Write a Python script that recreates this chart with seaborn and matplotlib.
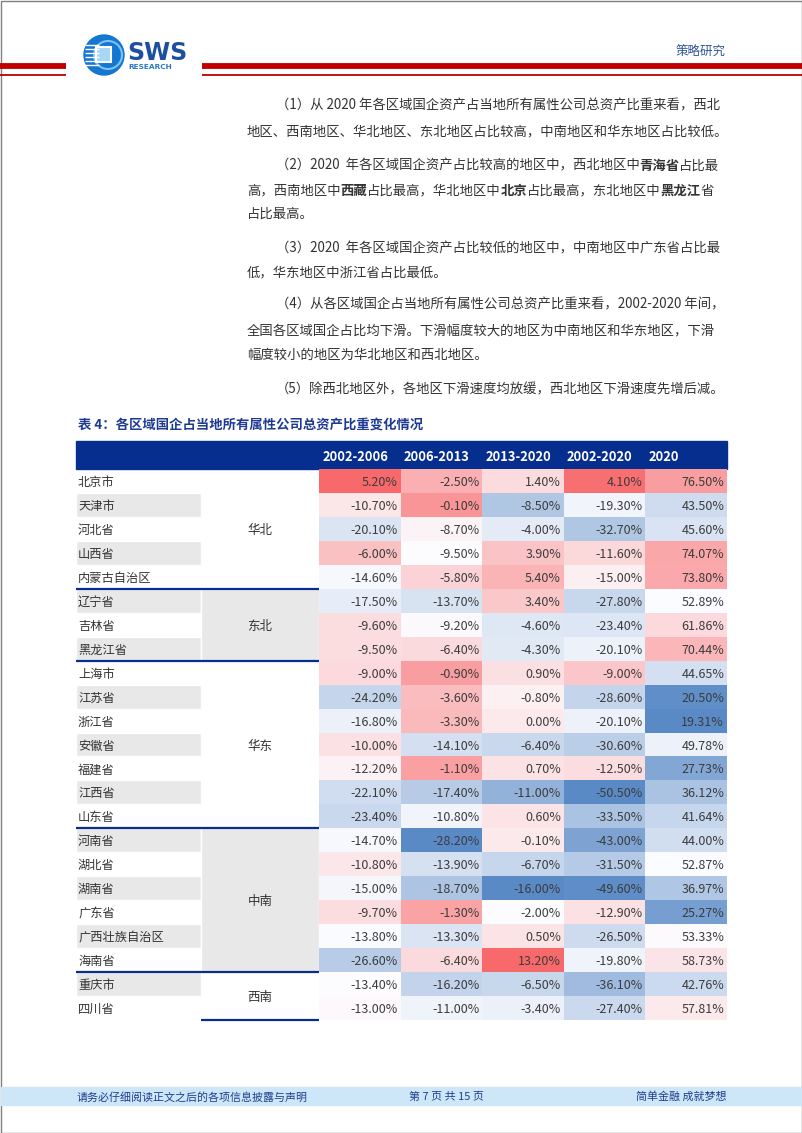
import matplotlib
matplotlib.use("Agg")
import matplotlib.pyplot as plt
import numpy as np
import pandas as pd
import seaborn as sns
from matplotlib import font_manager
from matplotlib.colors import LinearSegmentedColormap, TwoSlopeNorm
from matplotlib.patches import Rectangle, Circle

# Table 4 data: change of SOE share of total assets, by province
provinces = ["北京市", "天津市", "河北省", "山西省", "内蒙古自治区",
             "辽宁省", "吉林省", "黑龙江省",
             "上海市", "江苏省", "浙江省", "安徽省", "福建省", "江西省", "山东省",
             "河南省", "湖北省", "湖南省", "广东省", "广西壮族自治区", "海南省",
             "重庆市", "四川省"]
regions = ["华北", "东北", "华东", "中南", "西南"]
region_sizes = [5, 3, 7, 6, 2]
periods = ["2002-2006", "2006-2013", "2013-2020", "2002-2020", "2020"]

chg_0206 = [5.2, -10.7, -20.1, -6.0, -14.6, -17.5, -9.6, -9.5, -9.0, -24.2, -16.8, -10.0,
            -12.2, -22.1, -23.4, -14.7, -10.8, -15.0, -9.7, -13.8, -26.6, -13.4, -13.0]
chg_0613 = [-2.5, -0.1, -8.7, -9.5, -5.8, -13.7, -9.2, -6.4, -0.9, -3.6, -3.3, -14.1,
            -1.1, -17.4, -10.8, -28.2, -13.9, -18.7, -1.3, -13.3, -6.4, -16.2, -11.0]
chg_1320 = [1.4, -8.5, -4.0, 3.9, 5.4, 3.4, -4.6, -4.3, 0.9, -0.8, 0.0, -6.4,
            0.7, -11.0, 0.6, -0.1, -6.7, -16.0, -2.0, 0.5, 13.2, -6.5, -3.4]
chg_0220 = [4.1, -19.3, -32.7, -11.6, -15.0, -27.8, -23.4, -20.1, -9.0, -28.6, -20.1, -30.6,
            -12.5, -50.5, -33.5, -43.0, -31.5, -49.6, -12.9, -26.5, -19.8, -36.1, -27.4]
share_2020 = [76.50, 43.50, 45.60, 74.07, 73.80, 52.89, 61.86, 70.44, 44.65, 20.50, 19.31, 49.78,
              27.73, 36.12, 41.64, 44.00, 52.87, 36.97, 25.27, 53.33, 58.73, 42.76, 57.81]

# colour-scale anchors per column (the source table also covers provinces on the next page)
scale_low = [-45.0, -28.2, -16.0, -50.5, 19.31]
scale_mid = [-13.5, -9.5, -2.0, -17.0, 52.9]
scale_high = [5.2, 4.0, 13.2, 5.0, 90.0]

body_lines = [
    [("（1）从 2020 年各区域国企资产占当地所有属性公司总资产比重来看，西北", False)],
    [("地区、西南地区、华北地区、东北地区占比较高，中南地区和华东地区占比较低。", False)],
    [("（2）2020  年各区域国企资产占比较高的地区中，西北地区中", False), ("青海省", True), ("占比最", False)],
    [("高，西南地区中", False), ("西藏", True), ("占比最高，华北地区中", False), ("北京", True),
     ("占比最高，东北地区中", False), ("黑龙江", True), ("省", False)],
    [("占比最高。", False)],
    [("（3）2020  年各区域国企资产占比较低的地区中，中南地区中广东省占比最", False)],
    [("低，华东地区中浙江省占比最低。", False)],
    [("（4）从各区域国企占当地所有属性公司总资产比重来看，2002-2020 年间，", False)],
    [("全国各区域国企占比均下滑。下滑幅度较大的地区为中南地区和华东地区，下滑", False)],
    [("幅度较小的地区为华北地区和西北地区。", False)],
    [("（5）除西北地区外，各地区下滑速度均放缓，西北地区下滑速度先增后减。", False)],
]
first_lines = [0, 2, 5, 7, 10]
line_y = [104, 130, 164, 189, 212, 247, 271, 303, 329, 353, 388]

W, H = 802, 1133
TEXT = "#333333"
NAVY = "#062e8e"
GRAY = "#e8e8e8"

sns.set_theme(style="white")
plt.rcParams["font.family"] = ["Noto Sans CJK SC", "DejaVu Sans"]


def fig_rect(x0, y0, x1, y1):
    return [x0 / W, 1 - y1 / H, (x1 - x0) / W, (y1 - y0) / H]


def run_width(text, size, bold):
    em = size * 100 / 72
    try:
        prop = font_manager.FontProperties(family="Noto Sans CJK SC",
                                           weight="bold" if bold else "normal")
        font = font_manager.get_font(font_manager.findfont(prop))
        font.set_size(size, 100)
        ref = font.load_char(ord("中")).linearHoriAdvance
        total = sum(font.load_char(ord(c)).linearHoriAdvance for c in text)
        return total / ref * em
    except Exception:
        return sum(em if ord(c) > 127 else 0.55 * em for c in text)


fig = plt.figure(figsize=(W / 100, H / 100), dpi=100)
page = fig.add_axes([0, 0, 1, 1])
page.set_xlim(0, W)
page.set_ylim(H, 0)
page.set_axis_off()

# page frame
page.add_patch(Rectangle((0.5, 0.5), W - 1, H - 1, fill=False, ec="#808080", lw=1))

# header: red rules, logo, section name
page.hlines(66, 0, 66, color="#c00000", lw=4.2)
page.hlines(75, 0, 66, color="#c00000", lw=1.3)
page.hlines(66, 202, W, color="#c00000", lw=4.2)
page.hlines(75, 202, W, color="#c00000", lw=1.3)
page.add_patch(Circle((104, 55), 20, color="#1577d0"))
page.add_patch(Circle((108, 55), 14, fill=False, ec="#7cc2f2", lw=1.5))
for sy in np.arange(45, 67, 4):
    page.hlines(sy, 85, 99, color="white", lw=1.0)
page.add_patch(Rectangle((96, 47), 15, 15, fc="#a8d6f7", ec="white", lw=1.5))
page.text(127, 53, "SWS", fontsize=17, fontweight="bold", color="#1d4f9f",
          family="DejaVu Sans", va="center", ha="left")
page.text(128, 67, "RESEARCH", fontsize=5.3, fontweight="bold", color="#2a78c8",
          family="DejaVu Sans", va="center", ha="left")
page.text(726, 52, "策略研究", fontsize=9, color="#2f5597", ha="right", va="center")

# body paragraphs
body_size = 9.6
for k, (runs, y) in enumerate(zip(body_lines, line_y)):
    x = 276 if k in first_lines else 247
    for txt, bold in runs:
        page.text(x, y, txt, fontsize=body_size, fontweight="bold" if bold else "normal",
                  color=TEXT, ha="left", va="center_baseline")
        x += run_width(txt, body_size, bold)

# table title and header band
page.text(78, 423, "表 4：各区域国企占当地所有属性公司总资产比重变化情况", fontsize=9.6,
          fontweight="bold", color="#1f3a93", ha="left", va="center_baseline")
page.add_patch(Rectangle((76, 441), 651, 28, color=NAVY))

# footer
page.add_patch(Rectangle((1, 1087), W - 2, 18, color="#cde7f8"))
page.text(77, 1096, "请务必仔细阅读正文之后的各项信息披露与声明", fontsize=7.9, color="#1f3e8e",
          ha="left", va="center_baseline")
page.text(409, 1096, "第 7 页 共 15 页", fontsize=7.9, color="#1f3e8e", ha="left", va="center_baseline")
page.text(726, 1096, "简单金融 成就梦想", fontsize=7.9, color="#1f3e8e", ha="right", va="center_baseline")

# heatmap of the five data columns, each column on its own diverging scale
table = pd.DataFrame(dict(zip(periods, [chg_0206, chg_0613, chg_1320, chg_0220, share_2020])),
                     index=provinces)
shade = table.copy()
for j, col in enumerate(periods):
    norm = TwoSlopeNorm(vmin=scale_low[j], vcenter=scale_mid[j], vmax=scale_high[j])
    shade[col] = np.clip(np.asarray(norm(table[col].values)), 0, 1)

cmap = LinearSegmentedColormap.from_list("excel3", ["#5A8AC6", "#FCFCFF", "#F8696B"])
ax_heat = fig.add_axes(fig_rect(319, 469, 727, 1020))
sns.heatmap(shade, ax=ax_heat, cmap=cmap, vmin=0, vmax=1, cbar=False,
            xticklabels=False, yticklabels=False, linewidths=0)
ax_heat.set_axis_off()
for i in range(len(provinces)):
    for j, col in enumerate(periods):
        ax_heat.text(j + 0.965, i + 0.5, f"{table[col].iloc[i]:.2f}%", ha="right",
                     va="center_baseline", fontsize=9, color="#3c3c3c")
for j, col in enumerate(periods):
    ax_heat.text(j + 0.04, -0.58, col, ha="left", va="center_baseline", fontsize=9.3,
                 fontweight="bold", color="white", clip_on=False)

# province and region columns
ax_lab = fig.add_axes(fig_rect(76, 469, 319, 1020))
ax_lab.set_xlim(76, 319)
ax_lab.set_ylim(len(provinces), 0)
ax_lab.set_axis_off()
rows = np.arange(len(provinces))
odd = rows[rows % 2 == 1]
ax_lab.barh(odd + 0.5, 125, left=76, height=1, color=GRAY)
starts = np.cumsum([0] + region_sizes[:-1])
for r, (name, start, size) in enumerate(zip(regions, starts, region_sizes)):
    if r % 2 == 1:
        ax_lab.barh(start + size / 2, 118, left=201, height=size, color=GRAY)
    ax_lab.text(260, start + size / 2, name, ha="center", va="center_baseline",
                fontsize=9, color=TEXT)
for i, name in enumerate(provinces):
    ax_lab.text(78, i + 0.5, name, ha="left", va="center_baseline", fontsize=8.8, color=TEXT)
ax_lab.hlines(starts[1:], 76, 319, color=NAVY, lw=1.6, clip_on=False)
ax_lab.hlines(len(provinces), 201, 319, color=NAVY, lw=1.6, clip_on=False)

fig.savefig("out.png", dpi=100)
